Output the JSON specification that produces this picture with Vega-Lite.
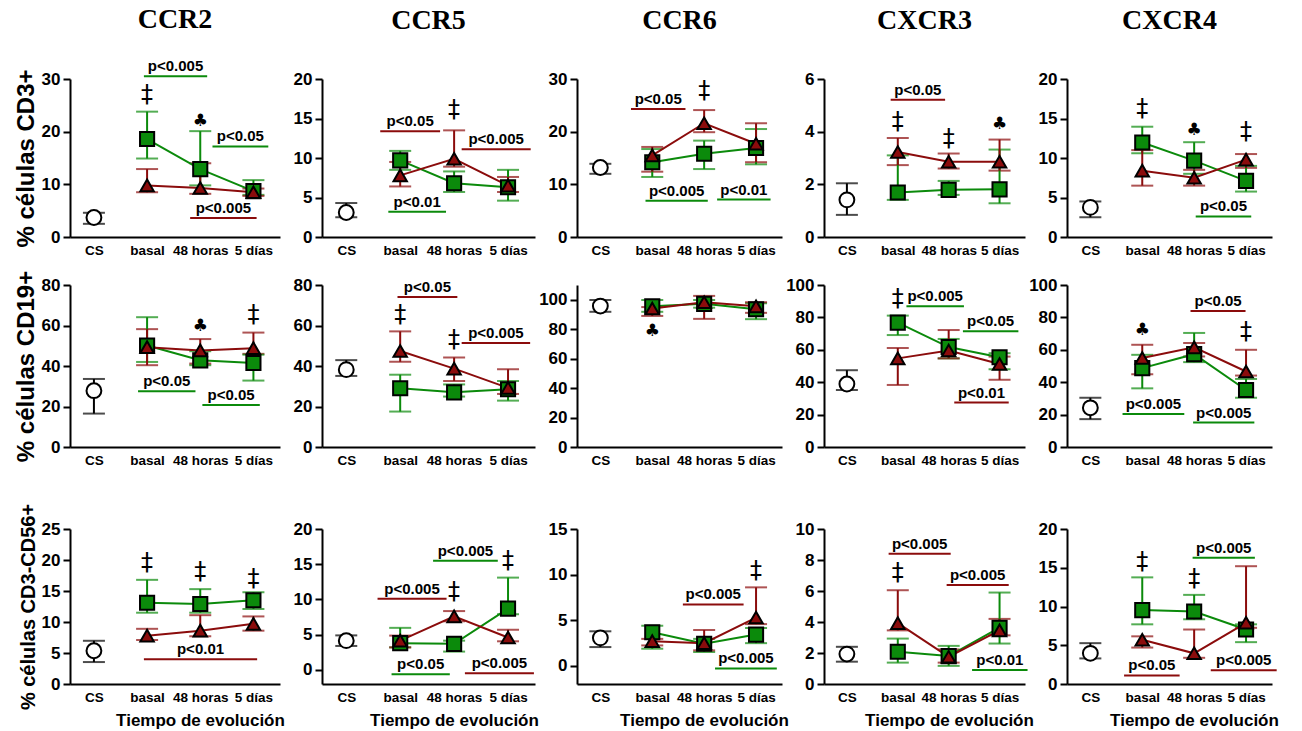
{
"$schema":"https://vega.github.io/schema/vega-lite/v6.json",
"padding":{"left":14,"top":6,"right":4,"bottom":4},
"background":"white",
"datasets":{
"pts":[
{"p":"A1","s":"k","x":0,"m":3.7,"lo":2.5,"hi":4.6},
{"p":"A1","s":"g","x":1,"m":18.6,"lo":14.9,"hi":23.8},
{"p":"A1","s":"g","x":2,"m":12.9,"lo":9.8,"hi":20.1},
{"p":"A1","s":"g","x":3,"m":8.7,"lo":8.0,"hi":10.8},
{"p":"A1","s":"r","x":1,"m":9.8,"lo":8.5,"hi":12.9},
{"p":"A1","s":"r","x":2,"m":9.3,"lo":8.2,"hi":14.0},
{"p":"A1","s":"r","x":3,"m":8.5,"lo":7.8,"hi":9.2},
{"p":"A2","s":"k","x":0,"m":3.1,"lo":2.5,"hi":4.3},
{"p":"A2","s":"g","x":1,"m":9.7,"lo":8.5,"hi":10.9},
{"p":"A2","s":"g","x":2,"m":6.8,"lo":5.7,"hi":8.3},
{"p":"A2","s":"g","x":3,"m":6.3,"lo":4.6,"hi":8.5},
{"p":"A2","s":"r","x":1,"m":7.8,"lo":6.4,"hi":9.5},
{"p":"A2","s":"r","x":2,"m":9.9,"lo":8.9,"hi":13.5},
{"p":"A2","s":"r","x":3,"m":6.5,"lo":5.7,"hi":7.6},
{"p":"A3","s":"k","x":0,"m":13.2,"lo":12.0,"hi":13.9},
{"p":"A3","s":"g","x":1,"m":14.2,"lo":11.4,"hi":16.7},
{"p":"A3","s":"g","x":2,"m":15.8,"lo":12.9,"hi":18.3},
{"p":"A3","s":"g","x":3,"m":16.9,"lo":13.8,"hi":20.5},
{"p":"A3","s":"r","x":1,"m":15.5,"lo":12.4,"hi":17.1},
{"p":"A3","s":"r","x":2,"m":21.6,"lo":19.9,"hi":24.1},
{"p":"A3","s":"r","x":3,"m":17.7,"lo":14.2,"hi":21.6},
{"p":"A4","s":"k","x":0,"m":1.41,"lo":0.84,"hi":2.04},
{"p":"A4","s":"g","x":1,"m":1.69,"lo":1.41,"hi":3.1},
{"p":"A4","s":"g","x":2,"m":1.79,"lo":1.6,"hi":2.13},
{"p":"A4","s":"g","x":3,"m":1.81,"lo":1.28,"hi":3.32},
{"p":"A4","s":"r","x":1,"m":3.23,"lo":2.73,"hi":3.76},
{"p":"A4","s":"r","x":2,"m":2.86,"lo":2.6,"hi":3.17},
{"p":"A4","s":"r","x":3,"m":2.86,"lo":2.52,"hi":3.7},
{"p":"A5","s":"k","x":0,"m":3.75,"lo":2.5,"hi":4.5},
{"p":"A5","s":"g","x":1,"m":11.96,"lo":10.6,"hi":13.96},
{"p":"A5","s":"g","x":2,"m":9.67,"lo":8.0,"hi":12.0},
{"p":"A5","s":"g","x":3,"m":7.1,"lo":5.75,"hi":9.0},
{"p":"A5","s":"r","x":1,"m":8.4,"lo":6.5,"hi":11.0},
{"p":"A5","s":"r","x":2,"m":7.5,"lo":6.5,"hi":8.5},
{"p":"A5","s":"r","x":3,"m":9.8,"lo":8.75,"hi":10.5},
{"p":"B1","s":"k","x":0,"m":27.8,"lo":16.5,"hi":33.6},
{"p":"B1","s":"g","x":1,"m":50.1,"lo":42.0,"hi":64.1},
{"p":"B1","s":"g","x":2,"m":42.8,"lo":40.4,"hi":47.3},
{"p":"B1","s":"g","x":3,"m":41.5,"lo":32.8,"hi":45.6},
{"p":"B1","s":"r","x":1,"m":49.3,"lo":40.4,"hi":58.2},
{"p":"B1","s":"r","x":2,"m":47.7,"lo":41.2,"hi":53.3},
{"p":"B1","s":"r","x":3,"m":48.8,"lo":46.0,"hi":56.5},
{"p":"B2","s":"k","x":0,"m":38.2,"lo":35.1,"hi":42.9},
{"p":"B2","s":"g","x":1,"m":29.0,"lo":17.5,"hi":35.7},
{"p":"B2","s":"g","x":2,"m":27.0,"lo":24.9,"hi":30.9},
{"p":"B2","s":"g","x":3,"m":28.5,"lo":22.9,"hi":32.6},
{"p":"B2","s":"r","x":1,"m":47.4,"lo":42.1,"hi":57.1},
{"p":"B2","s":"r","x":2,"m":38.7,"lo":32.6,"hi":44.2},
{"p":"B2","s":"r","x":3,"m":29.2,"lo":26.2,"hi":38.4},
{"p":"B3","s":"k","x":0,"m":95.7,"lo":91.8,"hi":99.8},
{"p":"B3","s":"g","x":1,"m":95.5,"lo":91.8,"hi":99.8},
{"p":"B3","s":"g","x":2,"m":97.2,"lo":94.6,"hi":99.8},
{"p":"B3","s":"g","x":3,"m":93.5,"lo":86.8,"hi":97.6},
{"p":"B3","s":"r","x":1,"m":94.0,"lo":89.0,"hi":95.0},
{"p":"B3","s":"r","x":2,"m":98.3,"lo":87.0,"hi":102.6},
{"p":"B3","s":"r","x":3,"m":95.5,"lo":91.1,"hi":98.3},
{"p":"B4","s":"k","x":0,"m":38.9,"lo":35.2,"hi":47.4},
{"p":"B4","s":"g","x":1,"m":76.8,"lo":69.1,"hi":81.1},
{"p":"B4","s":"g","x":2,"m":61.7,"lo":54.7,"hi":66.7},
{"p":"B4","s":"g","x":3,"m":55.4,"lo":48.0,"hi":57.9},
{"p":"B4","s":"r","x":1,"m":54.7,"lo":38.3,"hi":61.1},
{"p":"B4","s":"r","x":2,"m":59.6,"lo":54.7,"hi":72.2},
{"p":"B4","s":"r","x":3,"m":51.2,"lo":41.5,"hi":55.8},
{"p":"B5","s":"k","x":0,"m":24.2,"lo":17.2,"hi":30.4},
{"p":"B5","s":"g","x":1,"m":48.7,"lo":36.2,"hi":56.9},
{"p":"B5","s":"g","x":2,"m":57.3,"lo":52.4,"hi":70.4},
{"p":"B5","s":"g","x":3,"m":35.2,"lo":30.4,"hi":42.0},
{"p":"B5","s":"r","x":1,"m":54.9,"lo":44.9,"hi":63.1},
{"p":"B5","s":"r","x":2,"m":61.5,"lo":55.9,"hi":64.2},
{"p":"B5","s":"r","x":3,"m":46.6,"lo":44.1,"hi":60.0},
{"p":"C1","s":"k","x":0,"m":5.36,"lo":3.54,"hi":6.97},
{"p":"C1","s":"g","x":1,"m":13.1,"lo":11.5,"hi":16.8},
{"p":"C1","s":"g","x":2,"m":12.9,"lo":11.5,"hi":15.3},
{"p":"C1","s":"g","x":3,"m":13.5,"lo":12.1,"hi":14.8},
{"p":"C1","s":"r","x":1,"m":7.8,"lo":7.1,"hi":8.9},
{"p":"C1","s":"r","x":2,"m":8.6,"lo":7.7,"hi":11.1},
{"p":"C1","s":"r","x":3,"m":9.7,"lo":8.6,"hi":10.9},
{"p":"C2","s":"k","x":0,"m":4.15,"lo":3.4,"hi":4.9},
{"p":"C2","s":"g","x":1,"m":3.8,"lo":3.2,"hi":5.97},
{"p":"C2","s":"g","x":2,"m":3.7,"lo":2.6,"hi":4.15},
{"p":"C2","s":"g","x":3,"m":8.7,"lo":7.9,"hi":13.1},
{"p":"C2","s":"r","x":1,"m":4.15,"lo":3.2,"hi":4.87},
{"p":"C2","s":"r","x":2,"m":7.6,"lo":6.9,"hi":8.35},
{"p":"C2","s":"r","x":3,"m":4.6,"lo":4.06,"hi":5.7},
{"p":"C3","s":"k","x":0,"m":3.06,"lo":2.05,"hi":3.78},
{"p":"C3","s":"g","x":1,"m":3.67,"lo":1.87,"hi":4.39},
{"p":"C3","s":"g","x":2,"m":2.41,"lo":1.51,"hi":2.95},
{"p":"C3","s":"g","x":3,"m":3.42,"lo":2.48,"hi":4.14},
{"p":"C3","s":"r","x":1,"m":2.7,"lo":2.23,"hi":2.95},
{"p":"C3","s":"r","x":2,"m":2.48,"lo":1.69,"hi":3.92},
{"p":"C3","s":"r","x":3,"m":5.29,"lo":4.57,"hi":8.6},
{"p":"C4","s":"k","x":0,"m":1.93,"lo":1.44,"hi":2.4},
{"p":"C4","s":"g","x":1,"m":2.08,"lo":1.38,"hi":2.93},
{"p":"C4","s":"g","x":2,"m":1.8,"lo":1.17,"hi":2.46},
{"p":"C4","s":"g","x":3,"m":3.63,"lo":2.61,"hi":5.9},
{"p":"C4","s":"r","x":1,"m":3.93,"lo":3.46,"hi":6.05},
{"p":"C4","s":"r","x":2,"m":1.76,"lo":1.38,"hi":2.23},
{"p":"C4","s":"r","x":3,"m":3.46,"lo":3.14,"hi":4.2},
{"p":"C5","s":"k","x":0,"m":3.96,"lo":3.3,"hi":5.27},
{"p":"C5","s":"g","x":1,"m":9.54,"lo":7.7,"hi":13.76},
{"p":"C5","s":"g","x":2,"m":9.36,"lo":8.35,"hi":11.5},
{"p":"C5","s":"g","x":3,"m":7.03,"lo":5.4,"hi":7.7},
{"p":"C5","s":"r","x":1,"m":5.71,"lo":4.7,"hi":6.15},
{"p":"C5","s":"r","x":2,"m":3.96,"lo":3.38,"hi":7.03},
{"p":"C5","s":"r","x":3,"m":7.9,"lo":7.25,"hi":15.2}
],
"pv":[
{"p":"A1","s":"g","x1":0.94,"x2":2.13,"xt":1.535,"y":30.5,"t":"p<0.005"},
{"p":"A1","s":"g","x1":2.23,"x2":3.28,"xt":2.755,"y":17.2,"t":"p<0.05"},
{"p":"A1","s":"r","x1":1.81,"x2":3.06,"xt":2.435,"y":3.6,"t":"p<0.005"},
{"p":"A2","s":"r","x1":0.63,"x2":1.74,"xt":1.185,"y":13.4,"t":"p<0.05"},
{"p":"A2","s":"r","x1":2.14,"x2":3.42,"xt":2.78,"y":11.1,"t":"p<0.005"},
{"p":"A2","s":"g","x1":0.78,"x2":1.85,"xt":1.315,"y":3.2,"t":"p<0.01"},
{"p":"A3","s":"r","x1":0.59,"x2":1.64,"xt":1.115,"y":24.3,"t":"p<0.05"},
{"p":"A3","s":"g","x1":0.87,"x2":2.07,"xt":1.47,"y":6.9,"t":"p<0.005"},
{"p":"A3","s":"g","x1":2.25,"x2":3.28,"xt":2.765,"y":7.1,"t":"p<0.01"},
{"p":"A4","s":"r","x1":0.86,"x2":1.93,"xt":1.395,"y":5.21,"t":"p<0.05"},
{"p":"A5","s":"g","x1":2.03,"x2":3.1,"xt":2.565,"y":2.6,"t":"p<0.05"},
{"p":"B1","s":"g","x1":0.83,"x2":1.91,"xt":1.37,"y":27.5,"t":"p<0.05"},
{"p":"B1","s":"g","x1":2.04,"x2":3.12,"xt":2.58,"y":20.7,"t":"p<0.05"},
{"p":"B2","s":"r","x1":0.95,"x2":2.06,"xt":1.505,"y":74.1,"t":"p<0.05"},
{"p":"B2","s":"r","x1":2.14,"x2":3.41,"xt":2.775,"y":51.3,"t":"p<0.005"},
{"p":"B4","s":"g","x1":1.17,"x2":2.3,"xt":1.735,"y":86.9,"t":"p<0.005"},
{"p":"B4","s":"g","x1":2.28,"x2":3.37,"xt":2.825,"y":71.4,"t":"p<0.05"},
{"p":"B4","s":"r","x1":2.11,"x2":3.18,"xt":2.645,"y":27.4,"t":"p<0.01"},
{"p":"B5","s":"r","x1":1.93,"x2":2.99,"xt":2.46,"y":83.9,"t":"p<0.05"},
{"p":"B5","s":"g","x1":0.62,"x2":1.81,"xt":1.215,"y":20.3,"t":"p<0.005"},
{"p":"B5","s":"g","x1":1.98,"x2":3.16,"xt":2.57,"y":15.1,"t":"p<0.005"},
{"p":"C1","s":"r","x1":0.94,"x2":3.07,"xt":2.005,"y":4.0,"t":"p<0.01"},
{"p":"C2","s":"r","x1":0.58,"x2":1.86,"xt":1.22,"y":10.1,"t":"p<0.005"},
{"p":"C2","s":"g","x1":1.61,"x2":2.81,"xt":2.21,"y":15.5,"t":"p<0.005"},
{"p":"C2","s":"g","x1":0.84,"x2":1.92,"xt":1.38,"y":-0.62,"t":"p<0.05"},
{"p":"C2","s":"r","x1":2.2,"x2":3.48,"xt":2.84,"y":-0.48,"t":"p<0.005"},
{"p":"C3","s":"r","x1":1.59,"x2":2.76,"xt":2.175,"y":6.73,"t":"p<0.005"},
{"p":"C3","s":"g","x1":2.21,"x2":3.4,"xt":2.805,"y":-0.29,"t":"p<0.005"},
{"p":"C4","s":"r","x1":0.82,"x2":2.04,"xt":1.43,"y":8.4,"t":"p<0.005"},
{"p":"C4","s":"r","x1":1.96,"x2":3.18,"xt":2.57,"y":6.39,"t":"p<0.005"},
{"p":"C4","s":"g","x1":2.46,"x2":3.55,"xt":3.005,"y":0.91,"t":"p<0.01"},
{"p":"C5","s":"g","x1":1.97,"x2":3.17,"xt":2.57,"y":16.3,"t":"p<0.005"},
{"p":"C5","s":"r","x1":0.65,"x2":1.72,"xt":1.185,"y":1.1,"t":"p<0.05"},
{"p":"C5","s":"r","x1":2.32,"x2":3.59,"xt":2.955,"y":1.76,"t":"p<0.005"}
],
"sym":[
{"p":"A1","k":"d","x":1,"y":27,"t":"‡"},
{"p":"A1","k":"c","x":2,"y":22,"t":"♣"},
{"p":"A2","k":"d","x":2,"y":16.1,"t":"‡"},
{"p":"A3","k":"d","x":2,"y":27.8,"t":"‡"},
{"p":"A4","k":"d","x":1,"y":4.37,"t":"‡"},
{"p":"A4","k":"d","x":2,"y":3.74,"t":"‡"},
{"p":"A4","k":"c","x":3,"y":4.3,"t":"♣"},
{"p":"A5","k":"d","x":1,"y":16.25,"t":"‡"},
{"p":"A5","k":"c","x":2,"y":13.5,"t":"♣"},
{"p":"A5","k":"d","x":3,"y":13.25,"t":"‡"},
{"p":"B1","k":"c","x":2,"y":59.8,"t":"♣"},
{"p":"B1","k":"d","x":3,"y":65.4,"t":"‡"},
{"p":"B2","k":"d","x":1,"y":65.4,"t":"‡"},
{"p":"B2","k":"d","x":2,"y":52.9,"t":"‡"},
{"p":"B3","k":"c","x":1,"y":78.8,"t":"♣"},
{"p":"B4","k":"d","x":1,"y":91.6,"t":"‡"},
{"p":"B5","k":"c","x":1,"y":72.5,"t":"♣"},
{"p":"B5","k":"d","x":3,"y":71.0,"t":"‡"},
{"p":"C1","k":"d","x":1,"y":19.5,"t":"‡"},
{"p":"C1","k":"d","x":2,"y":18.0,"t":"‡"},
{"p":"C1","k":"d","x":3,"y":17.0,"t":"‡"},
{"p":"C2","k":"d","x":2,"y":11.1,"t":"‡"},
{"p":"C2","k":"d","x":3,"y":15.5,"t":"‡"},
{"p":"C3","k":"d","x":3,"y":10.4,"t":"‡"},
{"p":"C4","k":"d","x":1,"y":7.18,"t":"‡"},
{"p":"C5","k":"d","x":1,"y":15.8,"t":"‡"},
{"p":"C5","k":"d","x":2,"y":13.5,"t":"‡"}
]
},
"spacing":36,
"vconcat":[
{"spacing":13,"vconcat":[
{"spacing":42,"bounds":"flush","hconcat":[
{"width":210,"height":158,"title":{"text":"CCR2","offset":25},"layer":[
{"data":{"name":"pts"},"transform":[{"filter":"datum.p=='A1'"}],"mark":{"type":"errorbar","thickness":2,"ticks":{"size":22,"thickness":2}},"encoding":{"x":{"field":"x","type":"quantitative","scale":{"domain":[-0.45,3.5],"nice":false,"zero":false},"axis":{"values":[0,1,2,3],"tickCount":10,"labelExpr":"['CS','basal','48 horas','5 días'][datum.value]","title":null,"labelOverlap":false}},"y":{"field":"lo","type":"quantitative","scale":{"domain":[0,30],"nice":false,"zero":false},"axis":{"values":[0,10,20,30],"tickCount":12,"format":"d","title":"% células CD3+","labelOverlap":false}},"y2":{"field":"hi"},"color":{"field":"s","type":"nominal","scale":{"domain":["k","g","r"],"range":["#000000","#0b8a0b","#8b0c0c"]},"legend":null}}},
{"data":{"name":"pts"},"transform":[{"filter":"datum.p=='A1' && datum.s!='k'"}],"mark":{"type":"line","strokeWidth":2},"encoding":{"x":{"field":"x","type":"quantitative"},"y":{"field":"m","type":"quantitative"},"color":{"field":"s","type":"nominal","legend":null}}},
{"data":{"name":"pts"},"transform":[{"filter":"datum.p=='A1'"}],"mark":{"type":"point","filled":true,"stroke":"#000","strokeWidth":2,"opacity":1},"encoding":{"x":{"field":"x","type":"quantitative"},"y":{"field":"m","type":"quantitative"},"shape":{"field":"s","type":"nominal","scale":{"domain":["k","g","r"],"range":["circle","square","triangle-up"]},"legend":null},"fill":{"field":"s","type":"nominal","scale":{"domain":["k","g","r"],"range":["#ffffff","#0b8a0b","#8b0c0c"]},"legend":null},"size":{"field":"s","type":"ordinal","scale":{"domain":["k","g","r"],"range":[220,180,200]},"legend":null}}},
{"data":{"name":"pv"},"transform":[{"filter":"datum.p=='A1'"}],"mark":{"type":"rule","strokeWidth":2},"encoding":{"x":{"field":"x1","type":"quantitative"},"x2":{"field":"x2"},"y":{"field":"y","type":"quantitative"},"color":{"field":"s","type":"nominal","legend":null}}},
{"data":{"name":"pv"},"transform":[{"filter":"datum.p=='A1'"}],"mark":{"type":"text","font":"Liberation Sans","fontWeight":"bold","fontSize":15,"baseline":"alphabetic","dy":-5,"color":"#000"},"encoding":{"x":{"field":"xt","type":"quantitative"},"y":{"field":"y","type":"quantitative"},"text":{"field":"t"}}},
{"data":{"name":"sym"},"transform":[{"filter":"datum.p=='A1' && datum.k=='d'"}],"mark":{"type":"text","font":"DejaVu Sans","fontSize":24,"baseline":"middle","color":"#000"},"encoding":{"x":{"field":"x","type":"quantitative"},"y":{"field":"y","type":"quantitative"},"text":{"field":"t"}}},
{"data":{"name":"sym"},"transform":[{"filter":"datum.p=='A1' && datum.k=='c'"}],"mark":{"type":"text","font":"DejaVu Sans","fontSize":17,"baseline":"middle","color":"#000"},"encoding":{"x":{"field":"x","type":"quantitative"},"y":{"field":"y","type":"quantitative"},"text":{"field":"t"}}}
]},
{"width":213,"height":158,"title":"CCR5","layer":[
{"data":{"name":"pts"},"transform":[{"filter":"datum.p=='A2'"}],"mark":{"type":"errorbar","thickness":2,"ticks":{"size":22,"thickness":2}},"encoding":{"x":{"field":"x","type":"quantitative","scale":{"domain":[-0.45,3.5],"nice":false,"zero":false},"axis":{"values":[0,1,2,3],"tickCount":10,"labelExpr":"['CS','basal','48 horas','5 días'][datum.value]","title":null,"labelOverlap":false}},"y":{"field":"lo","type":"quantitative","scale":{"domain":[0,20],"nice":false,"zero":false},"axis":{"values":[0,5,10,15,20],"tickCount":12,"format":"d","title":null,"labelOverlap":false}},"y2":{"field":"hi"},"color":{"field":"s","type":"nominal","scale":{"domain":["k","g","r"],"range":["#000000","#0b8a0b","#8b0c0c"]},"legend":null}}},
{"data":{"name":"pts"},"transform":[{"filter":"datum.p=='A2' && datum.s!='k'"}],"mark":{"type":"line","strokeWidth":2},"encoding":{"x":{"field":"x","type":"quantitative"},"y":{"field":"m","type":"quantitative"},"color":{"field":"s","type":"nominal","legend":null}}},
{"data":{"name":"pts"},"transform":[{"filter":"datum.p=='A2'"}],"mark":{"type":"point","filled":true,"stroke":"#000","strokeWidth":2,"opacity":1},"encoding":{"x":{"field":"x","type":"quantitative"},"y":{"field":"m","type":"quantitative"},"shape":{"field":"s","type":"nominal","scale":{"domain":["k","g","r"],"range":["circle","square","triangle-up"]},"legend":null},"fill":{"field":"s","type":"nominal","scale":{"domain":["k","g","r"],"range":["#ffffff","#0b8a0b","#8b0c0c"]},"legend":null},"size":{"field":"s","type":"ordinal","scale":{"domain":["k","g","r"],"range":[220,180,200]},"legend":null}}},
{"data":{"name":"pv"},"transform":[{"filter":"datum.p=='A2'"}],"mark":{"type":"rule","strokeWidth":2},"encoding":{"x":{"field":"x1","type":"quantitative"},"x2":{"field":"x2"},"y":{"field":"y","type":"quantitative"},"color":{"field":"s","type":"nominal","legend":null}}},
{"data":{"name":"pv"},"transform":[{"filter":"datum.p=='A2'"}],"mark":{"type":"text","font":"Liberation Sans","fontWeight":"bold","fontSize":15,"baseline":"alphabetic","dy":-5,"color":"#000"},"encoding":{"x":{"field":"xt","type":"quantitative"},"y":{"field":"y","type":"quantitative"},"text":{"field":"t"}}},
{"data":{"name":"sym"},"transform":[{"filter":"datum.p=='A2' && datum.k=='d'"}],"mark":{"type":"text","font":"DejaVu Sans","fontSize":24,"baseline":"middle","color":"#000"},"encoding":{"x":{"field":"x","type":"quantitative"},"y":{"field":"y","type":"quantitative"},"text":{"field":"t"}}}
]},
{"width":205,"height":158,"title":"CCR6","layer":[
{"data":{"name":"pts"},"transform":[{"filter":"datum.p=='A3'"}],"mark":{"type":"errorbar","thickness":2,"ticks":{"size":22,"thickness":2}},"encoding":{"x":{"field":"x","type":"quantitative","scale":{"domain":[-0.45,3.5],"nice":false,"zero":false},"axis":{"values":[0,1,2,3],"tickCount":10,"labelExpr":"['CS','basal','48 horas','5 días'][datum.value]","title":null,"labelOverlap":false}},"y":{"field":"lo","type":"quantitative","scale":{"domain":[0,30],"nice":false,"zero":false},"axis":{"values":[0,10,20,30],"tickCount":12,"format":"d","title":null,"labelOverlap":false}},"y2":{"field":"hi"},"color":{"field":"s","type":"nominal","scale":{"domain":["k","g","r"],"range":["#000000","#0b8a0b","#8b0c0c"]},"legend":null}}},
{"data":{"name":"pts"},"transform":[{"filter":"datum.p=='A3' && datum.s!='k'"}],"mark":{"type":"line","strokeWidth":2},"encoding":{"x":{"field":"x","type":"quantitative"},"y":{"field":"m","type":"quantitative"},"color":{"field":"s","type":"nominal","legend":null}}},
{"data":{"name":"pts"},"transform":[{"filter":"datum.p=='A3'"}],"mark":{"type":"point","filled":true,"stroke":"#000","strokeWidth":2,"opacity":1},"encoding":{"x":{"field":"x","type":"quantitative"},"y":{"field":"m","type":"quantitative"},"shape":{"field":"s","type":"nominal","scale":{"domain":["k","g","r"],"range":["circle","square","triangle-up"]},"legend":null},"fill":{"field":"s","type":"nominal","scale":{"domain":["k","g","r"],"range":["#ffffff","#0b8a0b","#8b0c0c"]},"legend":null},"size":{"field":"s","type":"ordinal","scale":{"domain":["k","g","r"],"range":[220,180,200]},"legend":null}}},
{"data":{"name":"pv"},"transform":[{"filter":"datum.p=='A3'"}],"mark":{"type":"rule","strokeWidth":2},"encoding":{"x":{"field":"x1","type":"quantitative"},"x2":{"field":"x2"},"y":{"field":"y","type":"quantitative"},"color":{"field":"s","type":"nominal","legend":null}}},
{"data":{"name":"pv"},"transform":[{"filter":"datum.p=='A3'"}],"mark":{"type":"text","font":"Liberation Sans","fontWeight":"bold","fontSize":15,"baseline":"alphabetic","dy":-5,"color":"#000"},"encoding":{"x":{"field":"xt","type":"quantitative"},"y":{"field":"y","type":"quantitative"},"text":{"field":"t"}}},
{"data":{"name":"sym"},"transform":[{"filter":"datum.p=='A3' && datum.k=='d'"}],"mark":{"type":"text","font":"DejaVu Sans","fontSize":24,"baseline":"middle","color":"#000"},"encoding":{"x":{"field":"x","type":"quantitative"},"y":{"field":"y","type":"quantitative"},"text":{"field":"t"}}}
]},
{"width":201,"height":158,"title":"CXCR3","layer":[
{"data":{"name":"pts"},"transform":[{"filter":"datum.p=='A4'"}],"mark":{"type":"errorbar","thickness":2,"ticks":{"size":22,"thickness":2}},"encoding":{"x":{"field":"x","type":"quantitative","scale":{"domain":[-0.45,3.5],"nice":false,"zero":false},"axis":{"values":[0,1,2,3],"tickCount":10,"labelExpr":"['CS','basal','48 horas','5 días'][datum.value]","title":null,"labelOverlap":false}},"y":{"field":"lo","type":"quantitative","scale":{"domain":[0,6],"nice":false,"zero":false},"axis":{"values":[0,2,4,6],"tickCount":12,"format":"d","title":null,"labelOverlap":false}},"y2":{"field":"hi"},"color":{"field":"s","type":"nominal","scale":{"domain":["k","g","r"],"range":["#000000","#0b8a0b","#8b0c0c"]},"legend":null}}},
{"data":{"name":"pts"},"transform":[{"filter":"datum.p=='A4' && datum.s!='k'"}],"mark":{"type":"line","strokeWidth":2},"encoding":{"x":{"field":"x","type":"quantitative"},"y":{"field":"m","type":"quantitative"},"color":{"field":"s","type":"nominal","legend":null}}},
{"data":{"name":"pts"},"transform":[{"filter":"datum.p=='A4'"}],"mark":{"type":"point","filled":true,"stroke":"#000","strokeWidth":2,"opacity":1},"encoding":{"x":{"field":"x","type":"quantitative"},"y":{"field":"m","type":"quantitative"},"shape":{"field":"s","type":"nominal","scale":{"domain":["k","g","r"],"range":["circle","square","triangle-up"]},"legend":null},"fill":{"field":"s","type":"nominal","scale":{"domain":["k","g","r"],"range":["#ffffff","#0b8a0b","#8b0c0c"]},"legend":null},"size":{"field":"s","type":"ordinal","scale":{"domain":["k","g","r"],"range":[220,180,200]},"legend":null}}},
{"data":{"name":"pv"},"transform":[{"filter":"datum.p=='A4'"}],"mark":{"type":"rule","strokeWidth":2},"encoding":{"x":{"field":"x1","type":"quantitative"},"x2":{"field":"x2"},"y":{"field":"y","type":"quantitative"},"color":{"field":"s","type":"nominal","legend":null}}},
{"data":{"name":"pv"},"transform":[{"filter":"datum.p=='A4'"}],"mark":{"type":"text","font":"Liberation Sans","fontWeight":"bold","fontSize":15,"baseline":"alphabetic","dy":-5,"color":"#000"},"encoding":{"x":{"field":"xt","type":"quantitative"},"y":{"field":"y","type":"quantitative"},"text":{"field":"t"}}},
{"data":{"name":"sym"},"transform":[{"filter":"datum.p=='A4' && datum.k=='d'"}],"mark":{"type":"text","font":"DejaVu Sans","fontSize":24,"baseline":"middle","color":"#000"},"encoding":{"x":{"field":"x","type":"quantitative"},"y":{"field":"y","type":"quantitative"},"text":{"field":"t"}}},
{"data":{"name":"sym"},"transform":[{"filter":"datum.p=='A4' && datum.k=='c'"}],"mark":{"type":"text","font":"DejaVu Sans","fontSize":17,"baseline":"middle","color":"#000"},"encoding":{"x":{"field":"x","type":"quantitative"},"y":{"field":"y","type":"quantitative"},"text":{"field":"t"}}}
]},
{"width":205,"height":158,"title":"CXCR4","layer":[
{"data":{"name":"pts"},"transform":[{"filter":"datum.p=='A5'"}],"mark":{"type":"errorbar","thickness":2,"ticks":{"size":22,"thickness":2}},"encoding":{"x":{"field":"x","type":"quantitative","scale":{"domain":[-0.45,3.5],"nice":false,"zero":false},"axis":{"values":[0,1,2,3],"tickCount":10,"labelExpr":"['CS','basal','48 horas','5 días'][datum.value]","title":null,"labelOverlap":false}},"y":{"field":"lo","type":"quantitative","scale":{"domain":[0,20],"nice":false,"zero":false},"axis":{"values":[0,5,10,15,20],"tickCount":12,"format":"d","title":null,"labelOverlap":false}},"y2":{"field":"hi"},"color":{"field":"s","type":"nominal","scale":{"domain":["k","g","r"],"range":["#000000","#0b8a0b","#8b0c0c"]},"legend":null}}},
{"data":{"name":"pts"},"transform":[{"filter":"datum.p=='A5' && datum.s!='k'"}],"mark":{"type":"line","strokeWidth":2},"encoding":{"x":{"field":"x","type":"quantitative"},"y":{"field":"m","type":"quantitative"},"color":{"field":"s","type":"nominal","legend":null}}},
{"data":{"name":"pts"},"transform":[{"filter":"datum.p=='A5'"}],"mark":{"type":"point","filled":true,"stroke":"#000","strokeWidth":2,"opacity":1},"encoding":{"x":{"field":"x","type":"quantitative"},"y":{"field":"m","type":"quantitative"},"shape":{"field":"s","type":"nominal","scale":{"domain":["k","g","r"],"range":["circle","square","triangle-up"]},"legend":null},"fill":{"field":"s","type":"nominal","scale":{"domain":["k","g","r"],"range":["#ffffff","#0b8a0b","#8b0c0c"]},"legend":null},"size":{"field":"s","type":"ordinal","scale":{"domain":["k","g","r"],"range":[220,180,200]},"legend":null}}},
{"data":{"name":"pv"},"transform":[{"filter":"datum.p=='A5'"}],"mark":{"type":"rule","strokeWidth":2},"encoding":{"x":{"field":"x1","type":"quantitative"},"x2":{"field":"x2"},"y":{"field":"y","type":"quantitative"},"color":{"field":"s","type":"nominal","legend":null}}},
{"data":{"name":"pv"},"transform":[{"filter":"datum.p=='A5'"}],"mark":{"type":"text","font":"Liberation Sans","fontWeight":"bold","fontSize":15,"baseline":"alphabetic","dy":-5,"color":"#000"},"encoding":{"x":{"field":"xt","type":"quantitative"},"y":{"field":"y","type":"quantitative"},"text":{"field":"t"}}},
{"data":{"name":"sym"},"transform":[{"filter":"datum.p=='A5' && datum.k=='d'"}],"mark":{"type":"text","font":"DejaVu Sans","fontSize":24,"baseline":"middle","color":"#000"},"encoding":{"x":{"field":"x","type":"quantitative"},"y":{"field":"y","type":"quantitative"},"text":{"field":"t"}}},
{"data":{"name":"sym"},"transform":[{"filter":"datum.p=='A5' && datum.k=='c'"}],"mark":{"type":"text","font":"DejaVu Sans","fontSize":17,"baseline":"middle","color":"#000"},"encoding":{"x":{"field":"x","type":"quantitative"},"y":{"field":"y","type":"quantitative"},"text":{"field":"t"}}}
]}
]},
{"spacing":42,"bounds":"flush","hconcat":[
{"width":210,"height":162,"layer":[
{"data":{"name":"pts"},"transform":[{"filter":"datum.p=='B1'"}],"mark":{"type":"errorbar","thickness":2,"ticks":{"size":22,"thickness":2}},"encoding":{"x":{"field":"x","type":"quantitative","scale":{"domain":[-0.45,3.5],"nice":false,"zero":false},"axis":{"values":[0,1,2,3],"tickCount":10,"labelExpr":"['CS','basal','48 horas','5 días'][datum.value]","title":null,"labelOverlap":false}},"y":{"field":"lo","type":"quantitative","scale":{"domain":[0,80],"nice":false,"zero":false},"axis":{"values":[0,20,40,60,80],"tickCount":12,"format":"d","title":"% células CD19+","labelOverlap":false}},"y2":{"field":"hi"},"color":{"field":"s","type":"nominal","scale":{"domain":["k","g","r"],"range":["#000000","#0b8a0b","#8b0c0c"]},"legend":null}}},
{"data":{"name":"pts"},"transform":[{"filter":"datum.p=='B1' && datum.s!='k'"}],"mark":{"type":"line","strokeWidth":2},"encoding":{"x":{"field":"x","type":"quantitative"},"y":{"field":"m","type":"quantitative"},"color":{"field":"s","type":"nominal","legend":null}}},
{"data":{"name":"pts"},"transform":[{"filter":"datum.p=='B1'"}],"mark":{"type":"point","filled":true,"stroke":"#000","strokeWidth":2,"opacity":1},"encoding":{"x":{"field":"x","type":"quantitative"},"y":{"field":"m","type":"quantitative"},"shape":{"field":"s","type":"nominal","scale":{"domain":["k","g","r"],"range":["circle","square","triangle-up"]},"legend":null},"fill":{"field":"s","type":"nominal","scale":{"domain":["k","g","r"],"range":["#ffffff","#0b8a0b","#8b0c0c"]},"legend":null},"size":{"field":"s","type":"ordinal","scale":{"domain":["k","g","r"],"range":[220,180,200]},"legend":null}}},
{"data":{"name":"pv"},"transform":[{"filter":"datum.p=='B1'"}],"mark":{"type":"rule","strokeWidth":2},"encoding":{"x":{"field":"x1","type":"quantitative"},"x2":{"field":"x2"},"y":{"field":"y","type":"quantitative"},"color":{"field":"s","type":"nominal","legend":null}}},
{"data":{"name":"pv"},"transform":[{"filter":"datum.p=='B1'"}],"mark":{"type":"text","font":"Liberation Sans","fontWeight":"bold","fontSize":15,"baseline":"alphabetic","dy":-5,"color":"#000"},"encoding":{"x":{"field":"xt","type":"quantitative"},"y":{"field":"y","type":"quantitative"},"text":{"field":"t"}}},
{"data":{"name":"sym"},"transform":[{"filter":"datum.p=='B1' && datum.k=='d'"}],"mark":{"type":"text","font":"DejaVu Sans","fontSize":24,"baseline":"middle","color":"#000"},"encoding":{"x":{"field":"x","type":"quantitative"},"y":{"field":"y","type":"quantitative"},"text":{"field":"t"}}},
{"data":{"name":"sym"},"transform":[{"filter":"datum.p=='B1' && datum.k=='c'"}],"mark":{"type":"text","font":"DejaVu Sans","fontSize":17,"baseline":"middle","color":"#000"},"encoding":{"x":{"field":"x","type":"quantitative"},"y":{"field":"y","type":"quantitative"},"text":{"field":"t"}}}
]},
{"width":213,"height":162,"layer":[
{"data":{"name":"pts"},"transform":[{"filter":"datum.p=='B2'"}],"mark":{"type":"errorbar","thickness":2,"ticks":{"size":22,"thickness":2}},"encoding":{"x":{"field":"x","type":"quantitative","scale":{"domain":[-0.45,3.5],"nice":false,"zero":false},"axis":{"values":[0,1,2,3],"tickCount":10,"labelExpr":"['CS','basal','48 horas','5 días'][datum.value]","title":null,"labelOverlap":false}},"y":{"field":"lo","type":"quantitative","scale":{"domain":[0,80],"nice":false,"zero":false},"axis":{"values":[0,20,40,60,80],"tickCount":12,"format":"d","title":null,"labelOverlap":false}},"y2":{"field":"hi"},"color":{"field":"s","type":"nominal","scale":{"domain":["k","g","r"],"range":["#000000","#0b8a0b","#8b0c0c"]},"legend":null}}},
{"data":{"name":"pts"},"transform":[{"filter":"datum.p=='B2' && datum.s!='k'"}],"mark":{"type":"line","strokeWidth":2},"encoding":{"x":{"field":"x","type":"quantitative"},"y":{"field":"m","type":"quantitative"},"color":{"field":"s","type":"nominal","legend":null}}},
{"data":{"name":"pts"},"transform":[{"filter":"datum.p=='B2'"}],"mark":{"type":"point","filled":true,"stroke":"#000","strokeWidth":2,"opacity":1},"encoding":{"x":{"field":"x","type":"quantitative"},"y":{"field":"m","type":"quantitative"},"shape":{"field":"s","type":"nominal","scale":{"domain":["k","g","r"],"range":["circle","square","triangle-up"]},"legend":null},"fill":{"field":"s","type":"nominal","scale":{"domain":["k","g","r"],"range":["#ffffff","#0b8a0b","#8b0c0c"]},"legend":null},"size":{"field":"s","type":"ordinal","scale":{"domain":["k","g","r"],"range":[220,180,200]},"legend":null}}},
{"data":{"name":"pv"},"transform":[{"filter":"datum.p=='B2'"}],"mark":{"type":"rule","strokeWidth":2},"encoding":{"x":{"field":"x1","type":"quantitative"},"x2":{"field":"x2"},"y":{"field":"y","type":"quantitative"},"color":{"field":"s","type":"nominal","legend":null}}},
{"data":{"name":"pv"},"transform":[{"filter":"datum.p=='B2'"}],"mark":{"type":"text","font":"Liberation Sans","fontWeight":"bold","fontSize":15,"baseline":"alphabetic","dy":-5,"color":"#000"},"encoding":{"x":{"field":"xt","type":"quantitative"},"y":{"field":"y","type":"quantitative"},"text":{"field":"t"}}},
{"data":{"name":"sym"},"transform":[{"filter":"datum.p=='B2' && datum.k=='d'"}],"mark":{"type":"text","font":"DejaVu Sans","fontSize":24,"baseline":"middle","color":"#000"},"encoding":{"x":{"field":"x","type":"quantitative"},"y":{"field":"y","type":"quantitative"},"text":{"field":"t"}}}
]},
{"width":205,"height":162,"layer":[
{"data":{"name":"pts"},"transform":[{"filter":"datum.p=='B3'"}],"mark":{"type":"errorbar","thickness":2,"ticks":{"size":22,"thickness":2}},"encoding":{"x":{"field":"x","type":"quantitative","scale":{"domain":[-0.45,3.5],"nice":false,"zero":false},"axis":{"values":[0,1,2,3],"tickCount":10,"labelExpr":"['CS','basal','48 horas','5 días'][datum.value]","title":null,"labelOverlap":false}},"y":{"field":"lo","type":"quantitative","scale":{"domain":[0,110],"nice":false,"zero":false},"axis":{"values":[0,20,40,60,80,100],"tickCount":12,"format":"d","title":null,"labelOverlap":false}},"y2":{"field":"hi"},"color":{"field":"s","type":"nominal","scale":{"domain":["k","g","r"],"range":["#000000","#0b8a0b","#8b0c0c"]},"legend":null}}},
{"data":{"name":"pts"},"transform":[{"filter":"datum.p=='B3' && datum.s!='k'"}],"mark":{"type":"line","strokeWidth":2},"encoding":{"x":{"field":"x","type":"quantitative"},"y":{"field":"m","type":"quantitative"},"color":{"field":"s","type":"nominal","legend":null}}},
{"data":{"name":"pts"},"transform":[{"filter":"datum.p=='B3'"}],"mark":{"type":"point","filled":true,"stroke":"#000","strokeWidth":2,"opacity":1},"encoding":{"x":{"field":"x","type":"quantitative"},"y":{"field":"m","type":"quantitative"},"shape":{"field":"s","type":"nominal","scale":{"domain":["k","g","r"],"range":["circle","square","triangle-up"]},"legend":null},"fill":{"field":"s","type":"nominal","scale":{"domain":["k","g","r"],"range":["#ffffff","#0b8a0b","#8b0c0c"]},"legend":null},"size":{"field":"s","type":"ordinal","scale":{"domain":["k","g","r"],"range":[220,180,200]},"legend":null}}},
{"data":{"name":"sym"},"transform":[{"filter":"datum.p=='B3' && datum.k=='c'"}],"mark":{"type":"text","font":"DejaVu Sans","fontSize":17,"baseline":"middle","color":"#000"},"encoding":{"x":{"field":"x","type":"quantitative"},"y":{"field":"y","type":"quantitative"},"text":{"field":"t"}}}
]},
{"width":201,"height":162,"layer":[
{"data":{"name":"pts"},"transform":[{"filter":"datum.p=='B4'"}],"mark":{"type":"errorbar","thickness":2,"ticks":{"size":22,"thickness":2}},"encoding":{"x":{"field":"x","type":"quantitative","scale":{"domain":[-0.45,3.5],"nice":false,"zero":false},"axis":{"values":[0,1,2,3],"tickCount":10,"labelExpr":"['CS','basal','48 horas','5 días'][datum.value]","title":null,"labelOverlap":false}},"y":{"field":"lo","type":"quantitative","scale":{"domain":[0,100],"nice":false,"zero":false},"axis":{"values":[0,20,40,60,80,100],"tickCount":12,"format":"d","title":null,"labelOverlap":false}},"y2":{"field":"hi"},"color":{"field":"s","type":"nominal","scale":{"domain":["k","g","r"],"range":["#000000","#0b8a0b","#8b0c0c"]},"legend":null}}},
{"data":{"name":"pts"},"transform":[{"filter":"datum.p=='B4' && datum.s!='k'"}],"mark":{"type":"line","strokeWidth":2},"encoding":{"x":{"field":"x","type":"quantitative"},"y":{"field":"m","type":"quantitative"},"color":{"field":"s","type":"nominal","legend":null}}},
{"data":{"name":"pts"},"transform":[{"filter":"datum.p=='B4'"}],"mark":{"type":"point","filled":true,"stroke":"#000","strokeWidth":2,"opacity":1},"encoding":{"x":{"field":"x","type":"quantitative"},"y":{"field":"m","type":"quantitative"},"shape":{"field":"s","type":"nominal","scale":{"domain":["k","g","r"],"range":["circle","square","triangle-up"]},"legend":null},"fill":{"field":"s","type":"nominal","scale":{"domain":["k","g","r"],"range":["#ffffff","#0b8a0b","#8b0c0c"]},"legend":null},"size":{"field":"s","type":"ordinal","scale":{"domain":["k","g","r"],"range":[220,180,200]},"legend":null}}},
{"data":{"name":"pv"},"transform":[{"filter":"datum.p=='B4'"}],"mark":{"type":"rule","strokeWidth":2},"encoding":{"x":{"field":"x1","type":"quantitative"},"x2":{"field":"x2"},"y":{"field":"y","type":"quantitative"},"color":{"field":"s","type":"nominal","legend":null}}},
{"data":{"name":"pv"},"transform":[{"filter":"datum.p=='B4'"}],"mark":{"type":"text","font":"Liberation Sans","fontWeight":"bold","fontSize":15,"baseline":"alphabetic","dy":-5,"color":"#000"},"encoding":{"x":{"field":"xt","type":"quantitative"},"y":{"field":"y","type":"quantitative"},"text":{"field":"t"}}},
{"data":{"name":"sym"},"transform":[{"filter":"datum.p=='B4' && datum.k=='d'"}],"mark":{"type":"text","font":"DejaVu Sans","fontSize":24,"baseline":"middle","color":"#000"},"encoding":{"x":{"field":"x","type":"quantitative"},"y":{"field":"y","type":"quantitative"},"text":{"field":"t"}}}
]},
{"width":205,"height":162,"layer":[
{"data":{"name":"pts"},"transform":[{"filter":"datum.p=='B5'"}],"mark":{"type":"errorbar","thickness":2,"ticks":{"size":22,"thickness":2}},"encoding":{"x":{"field":"x","type":"quantitative","scale":{"domain":[-0.45,3.5],"nice":false,"zero":false},"axis":{"values":[0,1,2,3],"tickCount":10,"labelExpr":"['CS','basal','48 horas','5 días'][datum.value]","title":null,"labelOverlap":false}},"y":{"field":"lo","type":"quantitative","scale":{"domain":[0,100],"nice":false,"zero":false},"axis":{"values":[0,20,40,60,80,100],"tickCount":12,"format":"d","title":null,"labelOverlap":false}},"y2":{"field":"hi"},"color":{"field":"s","type":"nominal","scale":{"domain":["k","g","r"],"range":["#000000","#0b8a0b","#8b0c0c"]},"legend":null}}},
{"data":{"name":"pts"},"transform":[{"filter":"datum.p=='B5' && datum.s!='k'"}],"mark":{"type":"line","strokeWidth":2},"encoding":{"x":{"field":"x","type":"quantitative"},"y":{"field":"m","type":"quantitative"},"color":{"field":"s","type":"nominal","legend":null}}},
{"data":{"name":"pts"},"transform":[{"filter":"datum.p=='B5'"}],"mark":{"type":"point","filled":true,"stroke":"#000","strokeWidth":2,"opacity":1},"encoding":{"x":{"field":"x","type":"quantitative"},"y":{"field":"m","type":"quantitative"},"shape":{"field":"s","type":"nominal","scale":{"domain":["k","g","r"],"range":["circle","square","triangle-up"]},"legend":null},"fill":{"field":"s","type":"nominal","scale":{"domain":["k","g","r"],"range":["#ffffff","#0b8a0b","#8b0c0c"]},"legend":null},"size":{"field":"s","type":"ordinal","scale":{"domain":["k","g","r"],"range":[220,180,200]},"legend":null}}},
{"data":{"name":"pv"},"transform":[{"filter":"datum.p=='B5'"}],"mark":{"type":"rule","strokeWidth":2},"encoding":{"x":{"field":"x1","type":"quantitative"},"x2":{"field":"x2"},"y":{"field":"y","type":"quantitative"},"color":{"field":"s","type":"nominal","legend":null}}},
{"data":{"name":"pv"},"transform":[{"filter":"datum.p=='B5'"}],"mark":{"type":"text","font":"Liberation Sans","fontWeight":"bold","fontSize":15,"baseline":"alphabetic","dy":-5,"color":"#000"},"encoding":{"x":{"field":"xt","type":"quantitative"},"y":{"field":"y","type":"quantitative"},"text":{"field":"t"}}},
{"data":{"name":"sym"},"transform":[{"filter":"datum.p=='B5' && datum.k=='d'"}],"mark":{"type":"text","font":"DejaVu Sans","fontSize":24,"baseline":"middle","color":"#000"},"encoding":{"x":{"field":"x","type":"quantitative"},"y":{"field":"y","type":"quantitative"},"text":{"field":"t"}}},
{"data":{"name":"sym"},"transform":[{"filter":"datum.p=='B5' && datum.k=='c'"}],"mark":{"type":"text","font":"DejaVu Sans","fontSize":17,"baseline":"middle","color":"#000"},"encoding":{"x":{"field":"x","type":"quantitative"},"y":{"field":"y","type":"quantitative"},"text":{"field":"t"}}}
]}
]}
]},
{"spacing":42,"bounds":"flush","hconcat":[
{"width":210,"height":155,"layer":[
{"data":{"name":"pts"},"transform":[{"filter":"datum.p=='C1'"}],"mark":{"type":"errorbar","thickness":2,"ticks":{"size":22,"thickness":2}},"encoding":{"x":{"field":"x","type":"quantitative","scale":{"domain":[-0.45,3.5],"nice":false,"zero":false},"axis":{"values":[0,1,2,3],"tickCount":10,"labelExpr":"['CS','basal','48 horas','5 días'][datum.value]","title":"Tiempo de evolución","titleX":130,"titleY":41,"titleBaseline":"alphabetic","labelOverlap":false}},"y":{"field":"lo","type":"quantitative","scale":{"domain":[0,25],"nice":false,"zero":false},"axis":{"values":[0,5,10,15,20,25],"tickCount":12,"format":"d","title":"% células CD3-CD56+","titleFontSize":20,"labelOverlap":false}},"y2":{"field":"hi"},"color":{"field":"s","type":"nominal","scale":{"domain":["k","g","r"],"range":["#000000","#0b8a0b","#8b0c0c"]},"legend":null}}},
{"data":{"name":"pts"},"transform":[{"filter":"datum.p=='C1' && datum.s!='k'"}],"mark":{"type":"line","strokeWidth":2},"encoding":{"x":{"field":"x","type":"quantitative"},"y":{"field":"m","type":"quantitative"},"color":{"field":"s","type":"nominal","legend":null}}},
{"data":{"name":"pts"},"transform":[{"filter":"datum.p=='C1'"}],"mark":{"type":"point","filled":true,"stroke":"#000","strokeWidth":2,"opacity":1},"encoding":{"x":{"field":"x","type":"quantitative"},"y":{"field":"m","type":"quantitative"},"shape":{"field":"s","type":"nominal","scale":{"domain":["k","g","r"],"range":["circle","square","triangle-up"]},"legend":null},"fill":{"field":"s","type":"nominal","scale":{"domain":["k","g","r"],"range":["#ffffff","#0b8a0b","#8b0c0c"]},"legend":null},"size":{"field":"s","type":"ordinal","scale":{"domain":["k","g","r"],"range":[220,180,200]},"legend":null}}},
{"data":{"name":"pv"},"transform":[{"filter":"datum.p=='C1'"}],"mark":{"type":"rule","strokeWidth":2},"encoding":{"x":{"field":"x1","type":"quantitative"},"x2":{"field":"x2"},"y":{"field":"y","type":"quantitative"},"color":{"field":"s","type":"nominal","legend":null}}},
{"data":{"name":"pv"},"transform":[{"filter":"datum.p=='C1'"}],"mark":{"type":"text","font":"Liberation Sans","fontWeight":"bold","fontSize":15,"baseline":"alphabetic","dy":-5,"color":"#000"},"encoding":{"x":{"field":"xt","type":"quantitative"},"y":{"field":"y","type":"quantitative"},"text":{"field":"t"}}},
{"data":{"name":"sym"},"transform":[{"filter":"datum.p=='C1' && datum.k=='d'"}],"mark":{"type":"text","font":"DejaVu Sans","fontSize":24,"baseline":"middle","color":"#000"},"encoding":{"x":{"field":"x","type":"quantitative"},"y":{"field":"y","type":"quantitative"},"text":{"field":"t"}}}
]},
{"width":213,"height":155,"layer":[
{"data":{"name":"pts"},"transform":[{"filter":"datum.p=='C2'"}],"mark":{"type":"errorbar","thickness":2,"ticks":{"size":22,"thickness":2}},"encoding":{"x":{"field":"x","type":"quantitative","scale":{"domain":[-0.45,3.5],"nice":false,"zero":false},"axis":{"values":[0,1,2,3],"tickCount":10,"labelExpr":"['CS','basal','48 horas','5 días'][datum.value]","title":"Tiempo de evolución","titleX":132,"titleY":41,"titleBaseline":"alphabetic","labelOverlap":false}},"y":{"field":"lo","type":"quantitative","scale":{"domain":[-2,20],"nice":false,"zero":false},"axis":{"values":[0,5,10,15,20],"tickCount":12,"format":"d","title":null,"labelOverlap":false}},"y2":{"field":"hi"},"color":{"field":"s","type":"nominal","scale":{"domain":["k","g","r"],"range":["#000000","#0b8a0b","#8b0c0c"]},"legend":null}}},
{"data":{"name":"pts"},"transform":[{"filter":"datum.p=='C2' && datum.s!='k'"}],"mark":{"type":"line","strokeWidth":2},"encoding":{"x":{"field":"x","type":"quantitative"},"y":{"field":"m","type":"quantitative"},"color":{"field":"s","type":"nominal","legend":null}}},
{"data":{"name":"pts"},"transform":[{"filter":"datum.p=='C2'"}],"mark":{"type":"point","filled":true,"stroke":"#000","strokeWidth":2,"opacity":1},"encoding":{"x":{"field":"x","type":"quantitative"},"y":{"field":"m","type":"quantitative"},"shape":{"field":"s","type":"nominal","scale":{"domain":["k","g","r"],"range":["circle","square","triangle-up"]},"legend":null},"fill":{"field":"s","type":"nominal","scale":{"domain":["k","g","r"],"range":["#ffffff","#0b8a0b","#8b0c0c"]},"legend":null},"size":{"field":"s","type":"ordinal","scale":{"domain":["k","g","r"],"range":[220,180,200]},"legend":null}}},
{"data":{"name":"pv"},"transform":[{"filter":"datum.p=='C2'"}],"mark":{"type":"rule","strokeWidth":2},"encoding":{"x":{"field":"x1","type":"quantitative"},"x2":{"field":"x2"},"y":{"field":"y","type":"quantitative"},"color":{"field":"s","type":"nominal","legend":null}}},
{"data":{"name":"pv"},"transform":[{"filter":"datum.p=='C2'"}],"mark":{"type":"text","font":"Liberation Sans","fontWeight":"bold","fontSize":15,"baseline":"alphabetic","dy":-5,"color":"#000"},"encoding":{"x":{"field":"xt","type":"quantitative"},"y":{"field":"y","type":"quantitative"},"text":{"field":"t"}}},
{"data":{"name":"sym"},"transform":[{"filter":"datum.p=='C2' && datum.k=='d'"}],"mark":{"type":"text","font":"DejaVu Sans","fontSize":24,"baseline":"middle","color":"#000"},"encoding":{"x":{"field":"x","type":"quantitative"},"y":{"field":"y","type":"quantitative"},"text":{"field":"t"}}}
]},
{"width":205,"height":155,"layer":[
{"data":{"name":"pts"},"transform":[{"filter":"datum.p=='C3'"}],"mark":{"type":"errorbar","thickness":2,"ticks":{"size":22,"thickness":2}},"encoding":{"x":{"field":"x","type":"quantitative","scale":{"domain":[-0.45,3.5],"nice":false,"zero":false},"axis":{"values":[0,1,2,3],"tickCount":10,"labelExpr":"['CS','basal','48 horas','5 días'][datum.value]","title":"Tiempo de evolución","titleX":127,"titleY":41,"titleBaseline":"alphabetic","labelOverlap":false}},"y":{"field":"lo","type":"quantitative","scale":{"domain":[-2,15],"nice":false,"zero":false},"axis":{"values":[0,5,10,15],"tickCount":12,"format":"d","title":null,"labelOverlap":false}},"y2":{"field":"hi"},"color":{"field":"s","type":"nominal","scale":{"domain":["k","g","r"],"range":["#000000","#0b8a0b","#8b0c0c"]},"legend":null}}},
{"data":{"name":"pts"},"transform":[{"filter":"datum.p=='C3' && datum.s!='k'"}],"mark":{"type":"line","strokeWidth":2},"encoding":{"x":{"field":"x","type":"quantitative"},"y":{"field":"m","type":"quantitative"},"color":{"field":"s","type":"nominal","legend":null}}},
{"data":{"name":"pts"},"transform":[{"filter":"datum.p=='C3'"}],"mark":{"type":"point","filled":true,"stroke":"#000","strokeWidth":2,"opacity":1},"encoding":{"x":{"field":"x","type":"quantitative"},"y":{"field":"m","type":"quantitative"},"shape":{"field":"s","type":"nominal","scale":{"domain":["k","g","r"],"range":["circle","square","triangle-up"]},"legend":null},"fill":{"field":"s","type":"nominal","scale":{"domain":["k","g","r"],"range":["#ffffff","#0b8a0b","#8b0c0c"]},"legend":null},"size":{"field":"s","type":"ordinal","scale":{"domain":["k","g","r"],"range":[220,180,200]},"legend":null}}},
{"data":{"name":"pv"},"transform":[{"filter":"datum.p=='C3'"}],"mark":{"type":"rule","strokeWidth":2},"encoding":{"x":{"field":"x1","type":"quantitative"},"x2":{"field":"x2"},"y":{"field":"y","type":"quantitative"},"color":{"field":"s","type":"nominal","legend":null}}},
{"data":{"name":"pv"},"transform":[{"filter":"datum.p=='C3'"}],"mark":{"type":"text","font":"Liberation Sans","fontWeight":"bold","fontSize":15,"baseline":"alphabetic","dy":-5,"color":"#000"},"encoding":{"x":{"field":"xt","type":"quantitative"},"y":{"field":"y","type":"quantitative"},"text":{"field":"t"}}},
{"data":{"name":"sym"},"transform":[{"filter":"datum.p=='C3' && datum.k=='d'"}],"mark":{"type":"text","font":"DejaVu Sans","fontSize":24,"baseline":"middle","color":"#000"},"encoding":{"x":{"field":"x","type":"quantitative"},"y":{"field":"y","type":"quantitative"},"text":{"field":"t"}}}
]},
{"width":201,"height":155,"layer":[
{"data":{"name":"pts"},"transform":[{"filter":"datum.p=='C4'"}],"mark":{"type":"errorbar","thickness":2,"ticks":{"size":22,"thickness":2}},"encoding":{"x":{"field":"x","type":"quantitative","scale":{"domain":[-0.45,3.5],"nice":false,"zero":false},"axis":{"values":[0,1,2,3],"tickCount":10,"labelExpr":"['CS','basal','48 horas','5 días'][datum.value]","title":"Tiempo de evolución","titleX":125,"titleY":41,"titleBaseline":"alphabetic","labelOverlap":false}},"y":{"field":"lo","type":"quantitative","scale":{"domain":[0,10],"nice":false,"zero":false},"axis":{"values":[0,2,4,6,8,10],"tickCount":12,"format":"d","title":null,"labelOverlap":false}},"y2":{"field":"hi"},"color":{"field":"s","type":"nominal","scale":{"domain":["k","g","r"],"range":["#000000","#0b8a0b","#8b0c0c"]},"legend":null}}},
{"data":{"name":"pts"},"transform":[{"filter":"datum.p=='C4' && datum.s!='k'"}],"mark":{"type":"line","strokeWidth":2},"encoding":{"x":{"field":"x","type":"quantitative"},"y":{"field":"m","type":"quantitative"},"color":{"field":"s","type":"nominal","legend":null}}},
{"data":{"name":"pts"},"transform":[{"filter":"datum.p=='C4'"}],"mark":{"type":"point","filled":true,"stroke":"#000","strokeWidth":2,"opacity":1},"encoding":{"x":{"field":"x","type":"quantitative"},"y":{"field":"m","type":"quantitative"},"shape":{"field":"s","type":"nominal","scale":{"domain":["k","g","r"],"range":["circle","square","triangle-up"]},"legend":null},"fill":{"field":"s","type":"nominal","scale":{"domain":["k","g","r"],"range":["#ffffff","#0b8a0b","#8b0c0c"]},"legend":null},"size":{"field":"s","type":"ordinal","scale":{"domain":["k","g","r"],"range":[220,180,200]},"legend":null}}},
{"data":{"name":"pv"},"transform":[{"filter":"datum.p=='C4'"}],"mark":{"type":"rule","strokeWidth":2},"encoding":{"x":{"field":"x1","type":"quantitative"},"x2":{"field":"x2"},"y":{"field":"y","type":"quantitative"},"color":{"field":"s","type":"nominal","legend":null}}},
{"data":{"name":"pv"},"transform":[{"filter":"datum.p=='C4'"}],"mark":{"type":"text","font":"Liberation Sans","fontWeight":"bold","fontSize":15,"baseline":"alphabetic","dy":-5,"color":"#000"},"encoding":{"x":{"field":"xt","type":"quantitative"},"y":{"field":"y","type":"quantitative"},"text":{"field":"t"}}},
{"data":{"name":"sym"},"transform":[{"filter":"datum.p=='C4' && datum.k=='d'"}],"mark":{"type":"text","font":"DejaVu Sans","fontSize":24,"baseline":"middle","color":"#000"},"encoding":{"x":{"field":"x","type":"quantitative"},"y":{"field":"y","type":"quantitative"},"text":{"field":"t"}}}
]},
{"width":205,"height":155,"layer":[
{"data":{"name":"pts"},"transform":[{"filter":"datum.p=='C5'"}],"mark":{"type":"errorbar","thickness":2,"ticks":{"size":22,"thickness":2}},"encoding":{"x":{"field":"x","type":"quantitative","scale":{"domain":[-0.45,3.5],"nice":false,"zero":false},"axis":{"values":[0,1,2,3],"tickCount":10,"labelExpr":"['CS','basal','48 horas','5 días'][datum.value]","title":"Tiempo de evolución","titleX":127,"titleY":41,"titleBaseline":"alphabetic","labelOverlap":false}},"y":{"field":"lo","type":"quantitative","scale":{"domain":[0,20],"nice":false,"zero":false},"axis":{"values":[0,5,10,15,20],"tickCount":12,"format":"d","title":null,"labelOverlap":false}},"y2":{"field":"hi"},"color":{"field":"s","type":"nominal","scale":{"domain":["k","g","r"],"range":["#000000","#0b8a0b","#8b0c0c"]},"legend":null}}},
{"data":{"name":"pts"},"transform":[{"filter":"datum.p=='C5' && datum.s!='k'"}],"mark":{"type":"line","strokeWidth":2},"encoding":{"x":{"field":"x","type":"quantitative"},"y":{"field":"m","type":"quantitative"},"color":{"field":"s","type":"nominal","legend":null}}},
{"data":{"name":"pts"},"transform":[{"filter":"datum.p=='C5'"}],"mark":{"type":"point","filled":true,"stroke":"#000","strokeWidth":2,"opacity":1},"encoding":{"x":{"field":"x","type":"quantitative"},"y":{"field":"m","type":"quantitative"},"shape":{"field":"s","type":"nominal","scale":{"domain":["k","g","r"],"range":["circle","square","triangle-up"]},"legend":null},"fill":{"field":"s","type":"nominal","scale":{"domain":["k","g","r"],"range":["#ffffff","#0b8a0b","#8b0c0c"]},"legend":null},"size":{"field":"s","type":"ordinal","scale":{"domain":["k","g","r"],"range":[220,180,200]},"legend":null}}},
{"data":{"name":"pv"},"transform":[{"filter":"datum.p=='C5'"}],"mark":{"type":"rule","strokeWidth":2},"encoding":{"x":{"field":"x1","type":"quantitative"},"x2":{"field":"x2"},"y":{"field":"y","type":"quantitative"},"color":{"field":"s","type":"nominal","legend":null}}},
{"data":{"name":"pv"},"transform":[{"filter":"datum.p=='C5'"}],"mark":{"type":"text","font":"Liberation Sans","fontWeight":"bold","fontSize":15,"baseline":"alphabetic","dy":-5,"color":"#000"},"encoding":{"x":{"field":"xt","type":"quantitative"},"y":{"field":"y","type":"quantitative"},"text":{"field":"t"}}},
{"data":{"name":"sym"},"transform":[{"filter":"datum.p=='C5' && datum.k=='d'"}],"mark":{"type":"text","font":"DejaVu Sans","fontSize":24,"baseline":"middle","color":"#000"},"encoding":{"x":{"field":"x","type":"quantitative"},"y":{"field":"y","type":"quantitative"},"text":{"field":"t"}}}
]}
]}
],
"config":{
"view":{"stroke":null},
"axis":{"domainColor":"#000","domainWidth":2,"tickColor":"#000","tickWidth":2,"tickSize":7,"labelFont":"Liberation Sans","labelFontWeight":"bold","labelColor":"#000","grid":false,"titleFont":"Liberation Sans","titleFontWeight":"bold","titleColor":"#000"},
"axisY":{"labelFontSize":17,"labelPadding":3,"titleFontSize":24,"titlePadding":3},
"axisX":{"labelFontSize":13.5,"ticks":false,"labelPadding":6,"titleFontSize":17,"labelFlush":false},
"title":{"font":"Liberation Serif","fontSize":28,"fontWeight":"bold","color":"#000","frame":"group","anchor":"middle","offset":35}
}
}
